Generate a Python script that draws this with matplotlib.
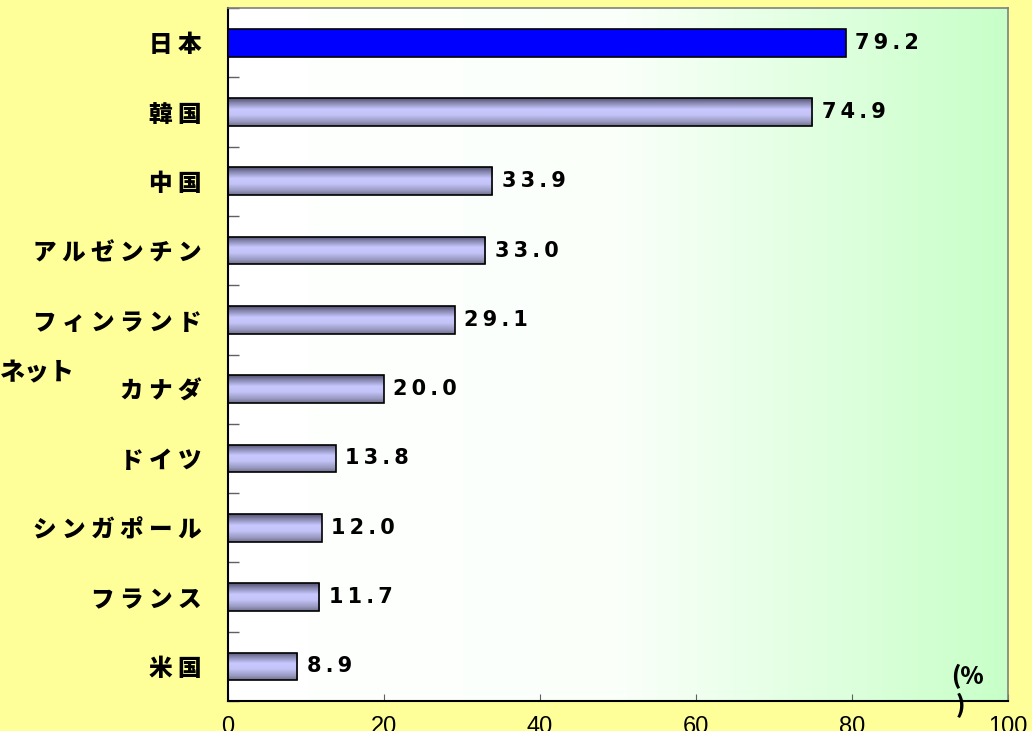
import numpy as np
import matplotlib
matplotlib.use("Agg")
import matplotlib.pyplot as plt
from matplotlib.colors import LinearSegmentedColormap

# 国別の値（%）
countries = ["日本", "韓国", "中国", "アルゼンチン", "フィンランド",
             "カナダ", "ドイツ", "シンガポール", "フランス", "米国"]
values = [79.2, 74.9, 33.9, 33.0, 29.1, 20.0, 13.8, 12.0, 11.7, 8.9]
xticks = [0, 20, 40, 60, 80, 100]

JP = ["Noto Sans CJK JP", "DejaVu Sans"]

fig = plt.figure(figsize=(10.32, 7.31), dpi=100, facecolor="#FFFF99")
ax = fig.add_axes([0.2209, 0.0410, 0.7558, 0.9480])

n = len(countries)
ypos = np.arange(n)
ax.set_xlim(0, 100)
ax.set_ylim(n - 0.5, -0.5)

# 背景グラデーション（白 → 薄緑）
bg_cmap = LinearSegmentedColormap.from_list("bg", ["#FFFFFF", "#FAFFFA", "#C8FFC8"])
bg = np.linspace(0, 1, 256).reshape(1, -1)
ax.imshow(bg, cmap=bg_cmap, aspect="auto", extent=[0, 100, n - 0.5, -0.5],
          zorder=0, interpolation="bicubic")

# 棒のグラデーション（上が濃く、中ほどが明るい）
bar_cmap = LinearSegmentedColormap.from_list(
    "bar", [(0.0, "#505070"), (0.15, "#8080A8"), (0.4, "#C8C8FF"),
            (0.6, "#C4C4F8"), (0.85, "#9898C0"), (1.0, "#70708C")])
grad = np.linspace(0, 1, 128).reshape(-1, 1)

bars = ax.barh(ypos, values, height=0.4, facecolor="none",
               edgecolor="black", linewidth=1.2, zorder=3)
for i, (b, v) in enumerate(zip(bars, values)):
    y0 = b.get_y()
    if i == 0:
        b.set_facecolor("#0000FF")
    else:
        im = ax.imshow(grad, cmap=bar_cmap, aspect="auto",
                       extent=[0, v, y0 + b.get_height(), y0], zorder=2,
                       interpolation="bilinear")
        im.set_clip_path(b)
    ax.text(v + 1.2, ypos[i], "\u2009".join(f"{v:.1f}"), va="center", ha="left",
            fontsize=15, fontweight="bold", family="DejaVu Sans", zorder=4)

ax.set_xlim(0, 100)
ax.set_ylim(n - 0.5, -0.5)

ax.set_yticks(ypos)
ax.set_yticklabels([" ".join(c) for c in countries], family=JP,
                   fontsize=17, fontweight="heavy")
ax.tick_params(axis="y", which="major", length=0, pad=19)
ax.set_yticks(np.arange(n + 1) - 0.5, minor=True)
ax.tick_params(axis="y", which="minor", direction="in", length=8,
               color="#606060", width=1)

ax.set_xticks(xticks)
ax.set_xticklabels([str(t) for t in xticks], family="Liberation Sans", fontsize=17)
ax.tick_params(axis="x", direction="in", length=5, color="#606060", pad=11)

for side in ["left", "bottom"]:
    ax.spines[side].set_color("black")
    ax.spines[side].set_linewidth(1.5)
for side in ["top", "right"]:
    ax.spines[side].set_color("#808080")
    ax.spines[side].set_linewidth(1.2)

fig.text(0.0, 0.49, "ネット", family=JP, fontsize=18, fontweight="heavy",
         ha="left", va="center")
fig.text(0.922, 0.075, "(%", family=JP, fontsize=17, fontweight="heavy",
         ha="left", va="center")
fig.text(0.926, 0.035, ")", family=JP, fontsize=17, fontweight="heavy",
         ha="left", va="center")

fig.savefig("out.png", dpi=100, facecolor=fig.get_facecolor())
